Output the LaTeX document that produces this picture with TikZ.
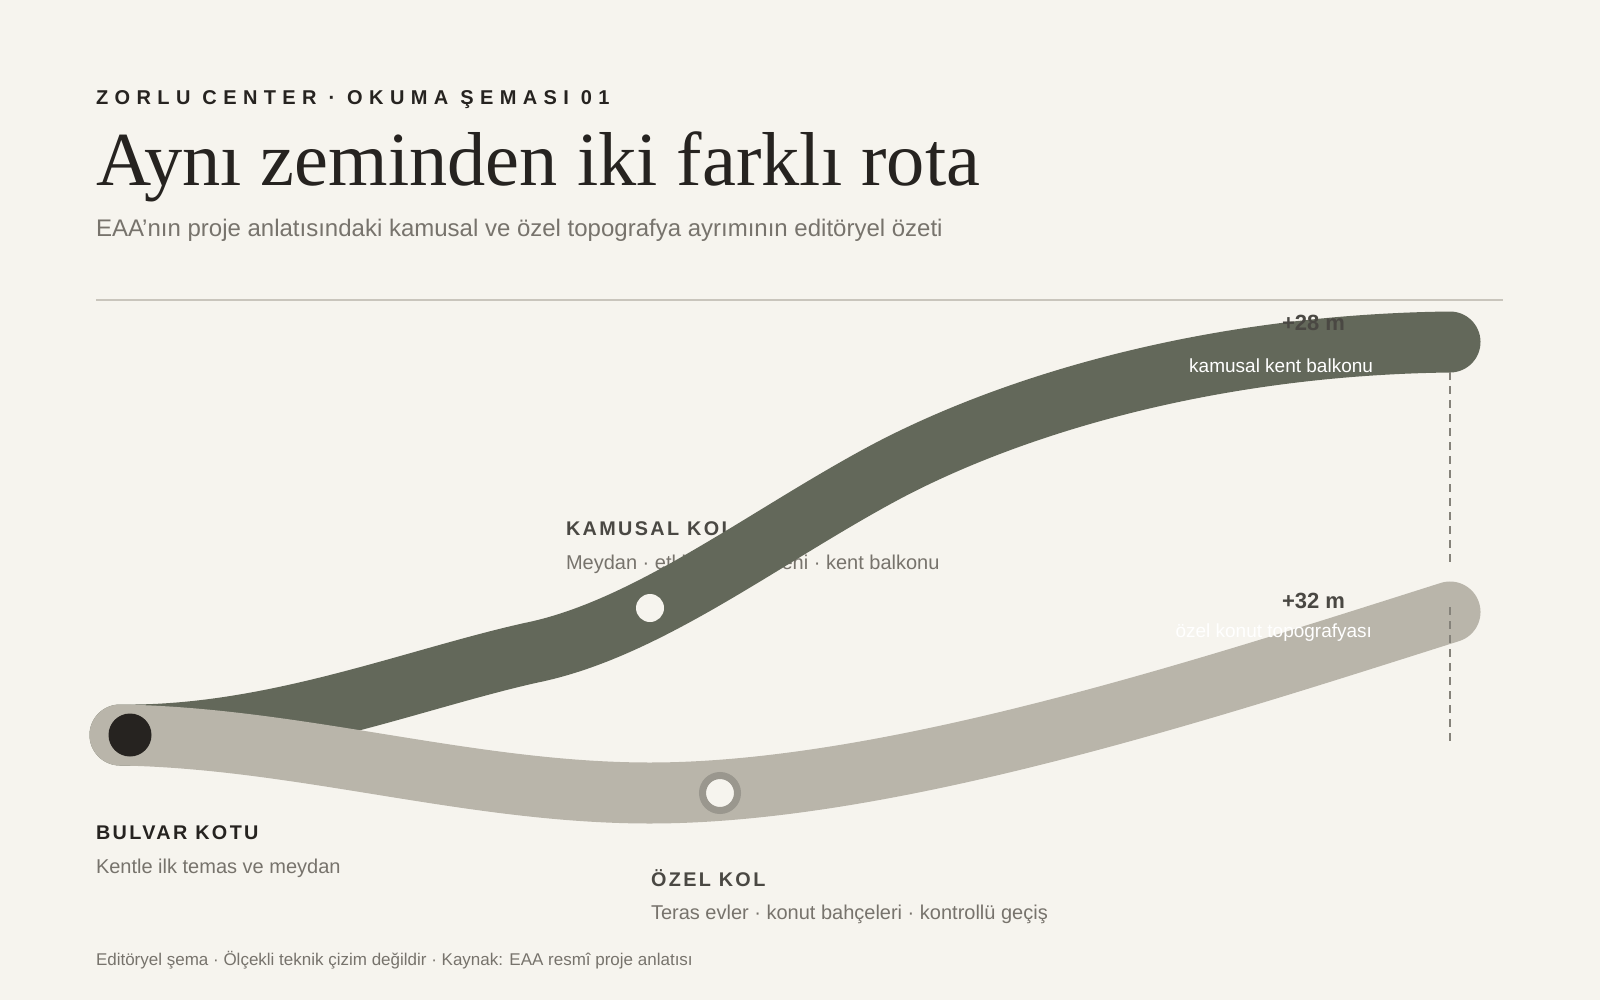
\documentclass[tikz,border=0pt]{standalone}
\usepackage{fontspec}
\setmainfont{Liberation Sans}
\newfontfamily\titlefont{Liberation Serif}
\usetikzlibrary{positioning}

\definecolor{paper}{HTML}{F6F4EE}
\definecolor{publicband}{HTML}{63685A}
\definecolor{privateband}{HTML}{B9B5AA}
\definecolor{inkdark}{HTML}{262320}
\definecolor{inkmid}{HTML}{4A4843}
\definecolor{inklight}{HTML}{77736C}
\definecolor{rulegray}{HTML}{C9C5BC}
\definecolor{ringgray}{HTML}{9A978E}
\definecolor{dashgray}{HTML}{85827A}

\newcommand{\fsz}[1]{\fontsize{#1}{#1}\selectfont}

\begin{document}
\begin{tikzpicture}[x=1pt,y=-1pt,
        every node/.style={inner sep=0pt,outer sep=0pt,anchor=base west},
        kicker/.style={inkdark,font=\fsz{20}\bfseries\addfontfeature{LetterSpace=32}},
        armtitle/.style={inkmid,font=\fsz{19.8}\bfseries\addfontfeature{LetterSpace=12}},
        armsub/.style={inklight,font=\fsz{20}},
        level/.style={inkmid,anchor=base east,font=\fsz{22}\bfseries},
        levelsub/.style={white,anchor=base east,font=\fsz{19}},
        band/.style={line width=61pt,line cap=round},
        marker/.style={dashgray,line width=1.8pt,dash pattern=on 8pt off 6pt}
        ]
        % paper
        \fill[paper] (0,0) rectangle (1600,1000);
        \useasboundingbox (0,0) rectangle (1600,1000);

        % header
        \node[kicker] (kicker) at (96,105) {ZORLU CENTER · OKUMA ŞEMASI 01};
        \node[inkdark,font=\titlefont\fsz{76.4}] (title) at (96,186) {Aynı zeminden iki farklı rota};
        \node[inklight,font=\fsz{24}] (subtitle) at (96,237)
            {EAA’nın proje anlatısındaki kamusal ve özel topografya ayrımının editöryel özeti};
        \coordinate (ruleL) at (96,300);
        \coordinate (ruleR) at (1503,300);
        \draw[rulegray,line width=2pt] (ruleL) -- (ruleR)
        ;

        %% public arm label sits under the band
        \node[armtitle] (pubtitle) at (566,535) {KAMUSAL KOL};
        \node[armsub] (pubsub) at (566,569) {Meydan · etkinlik merdiveni · kent balkonu};

        % the two routes
        \coordinate (origin) at (120,735);
        \coordinate (pubend) at (1450,342);
        \coordinate (privend) at (1450,612);
        \draw[band,publicband] (origin)
            .. controls (270,737) and (410,680) .. (530,653)
            .. controls (645,630) and (760,540) .. (880,475)
            .. controls (1000,410) and (1200,345) .. (pubend)
        ;
        \draw[band,privateband] (origin)
            .. controls (300,738) and (470,793) .. (650,793)
            .. controls (890,793) and (1210,688) .. (privend)
        ;

        % stops
        \node[circle,fill=inkdark,minimum size=43pt,anchor=center] (bulvar) at (130,735) {};
        \node[circle,fill=paper,minimum size=28pt,anchor=center] (pubstop) at (650,608) {};
        \node[circle,fill=paper,draw=ringgray,line width=7pt,minimum size=35pt,anchor=center]
            (privstop) at (720,793) {};

        %% level markers
        \coordinate (pubdrop) at (1450,372);
        \coordinate (pubfoot) at (1450,564);
        \coordinate (privdrop) at (1450,607);
        \coordinate (privfoot) at (1450,742);
        \draw[marker] (pubdrop) -- (pubfoot)
        ;
        \draw[marker] (privdrop) -- (privfoot)
        ;
        \node[level] (publevel) at (1345,330) {+28 m};
        \node[levelsub] (publevelsub) at (1373,372) {kamusal kent balkonu};
        \node[level] (privlevel) at (1345,608) {+32 m};
        \node[levelsub] (privlevelsub) at (1372,637) {özel konut topografyası};

        % ground level and private arm
        \node[armtitle,inkdark] (bulvartitle) at (96,839) {BULVAR KOTU};
        \node[armsub] (bulvarsub) at (96,873) {Kentle ilk temas ve meydan};
        \node[armtitle] (privtitle) at (651,886) {ÖZEL KOL};
        \node[armsub] (privsub) at (651,919) {Teras evler · konut bahçeleri · kontrollü geçiş};

        % footer
        \node[inklight,font=\fsz{17}] (footer) at (96,965)
            {Editöryel şema · Ölçekli teknik çizim değildir · Kaynak: EAA resmî proje anlatısı};
    \end{tikzpicture}
\end{document}
